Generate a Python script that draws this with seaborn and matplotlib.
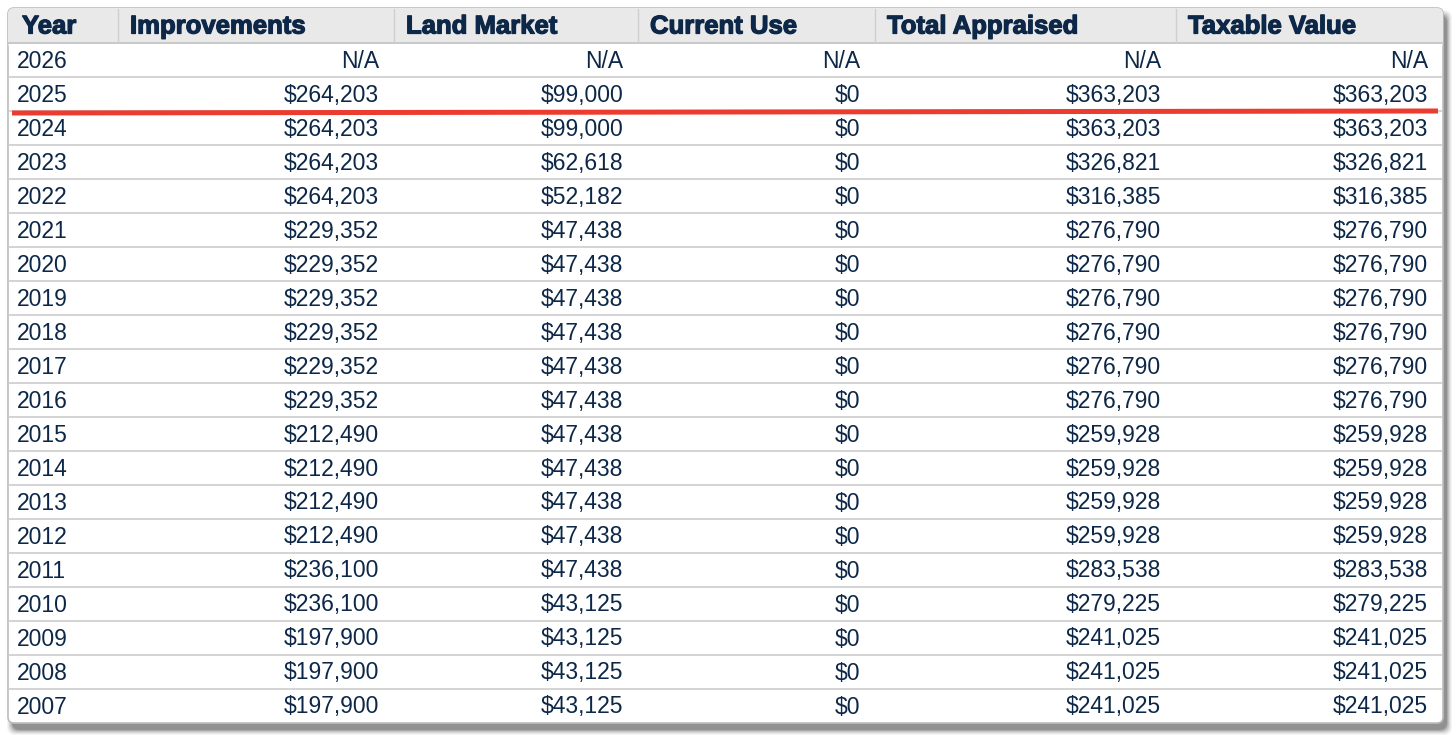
import matplotlib
matplotlib.use("Agg")
import matplotlib.pyplot as plt
import matplotlib.patheffects as pe
from matplotlib.patches import FancyBboxPatch, Rectangle
import seaborn as sns

# table data
columns = ["Year", "Improvements", "Land Market", "Current Use", "Total Appraised", "Taxable Value"]
years = [2026, 2025, 2024, 2023, 2022, 2021, 2020, 2019, 2018, 2017,
         2016, 2015, 2014, 2013, 2012, 2011, 2010, 2009, 2008, 2007]
improvements = [None, 264203, 264203, 264203, 264203, 229352, 229352, 229352, 229352, 229352,
                229352, 212490, 212490, 212490, 212490, 236100, 236100, 197900, 197900, 197900]
land_market = [None, 99000, 99000, 62618, 52182, 47438, 47438, 47438, 47438, 47438,
               47438, 47438, 47438, 47438, 47438, 47438, 43125, 43125, 43125, 43125]
current_use = [None] + [0] * 19
total_appraised = [None, 363203, 363203, 326821, 316385, 276790, 276790, 276790, 276790, 276790,
                   276790, 259928, 259928, 259928, 259928, 283538, 279225, 241025, 241025, 241025]
taxable_value = [None, 363203, 363203, 326821, 316385, 276790, 276790, 276790, 276790, 276790,
                 276790, 259928, 259928, 259928, 259928, 283538, 279225, 241025, 241025, 241025]
highlight_after = 2025

sns.set_theme(style="white")
plt.rcParams["font.family"] = ["Liberation Sans", "DejaVu Sans"]

W, H = 1456, 735
fig = plt.figure(figsize=(W / 100, H / 100), dpi=100)
ax = fig.add_axes([0, 0, 1, 1])
ax.set_xlim(0, W)
ax.set_ylim(H, 0)
ax.axis("off")

navy = "#0c2747"
left, right, top = 8, 1443, 8
header_h = 35
row_h = 34
bottom = top + header_h + row_h * len(years)
col_edges = [left, 118, 394, 638, 875, 1176, right]

# soft drop shadow
for i, a in enumerate([0.04, 0.05, 0.07, 0.09, 0.12, 0.15]):
    grow = 10 - 2 * i
    ax.add_patch(FancyBboxPatch((left + 4 - grow / 2, top + 7 - grow / 2),
                                right - left + grow, bottom - top + grow,
                                boxstyle="round,pad=0,rounding_size=8",
                                fc="black", ec="none", alpha=a, zorder=1))

# table body
ax.add_patch(FancyBboxPatch((left, top), right - left, bottom - top,
                            boxstyle="round,pad=0,rounding_size=6",
                            fc="white", ec="#bdbdbd", lw=1.2, zorder=2))
ax.add_patch(FancyBboxPatch((left, top), right - left, header_h + 6,
                            boxstyle="round,pad=0,rounding_size=6",
                            fc="#e9e9e9", ec="none", zorder=3))
ax.add_patch(Rectangle((left + 0.6, top + header_h - 1), right - left - 1.2, 8,
                       fc="white", ec="none", zorder=3))
ax.plot([left, right], [top + header_h, top + header_h], color="#c4c4c4", lw=1.3, zorder=4)
for x in col_edges[1:-1]:
    ax.plot([x, x], [top + 1, top + header_h], color="#cfcfcf", lw=1, zorder=4)

# header labels
heavy = [pe.withStroke(linewidth=0.9, foreground=navy)]
hy = top + header_h / 2 + 1
for i, name in enumerate(columns):
    x0 = col_edges[i] + (14 if i == 0 else 12)
    ax.text(x0, hy, name, fontsize=18.5, fontweight="bold", color=navy,
            ha="left", va="center", zorder=5, path_effects=heavy)

def fmt(v):
    return "N/A" if v is None else f"${v:,}"

series = [improvements, land_market, current_use, total_appraised, taxable_value]
for r, yr in enumerate(years):
    y0 = top + header_h + r * row_h
    cy = y0 + row_h / 2 + 1
    if r > 0:
        ax.plot([left + 1, right - 1], [y0, y0], color="#cdcdcd", lw=1.2, zorder=4)
    ax.text(col_edges[0] + 9, cy, str(yr), fontsize=16.5, color=navy,
            ha="left", va="center", zorder=5)
    for c, vals in enumerate(series):
        ax.text(col_edges[c + 2] - 15, cy, fmt(vals[r]), fontsize=16.5, color=navy,
                ha="right", va="center", zorder=5)
    if yr == highlight_after:
        ax.plot([12, 1438], [y0 + row_h + 2, y0 + row_h], color="#ec3b2f",
                lw=3.6, solid_capstyle="butt", zorder=6)

fig.savefig("out.png", dpi=100, facecolor="white")
